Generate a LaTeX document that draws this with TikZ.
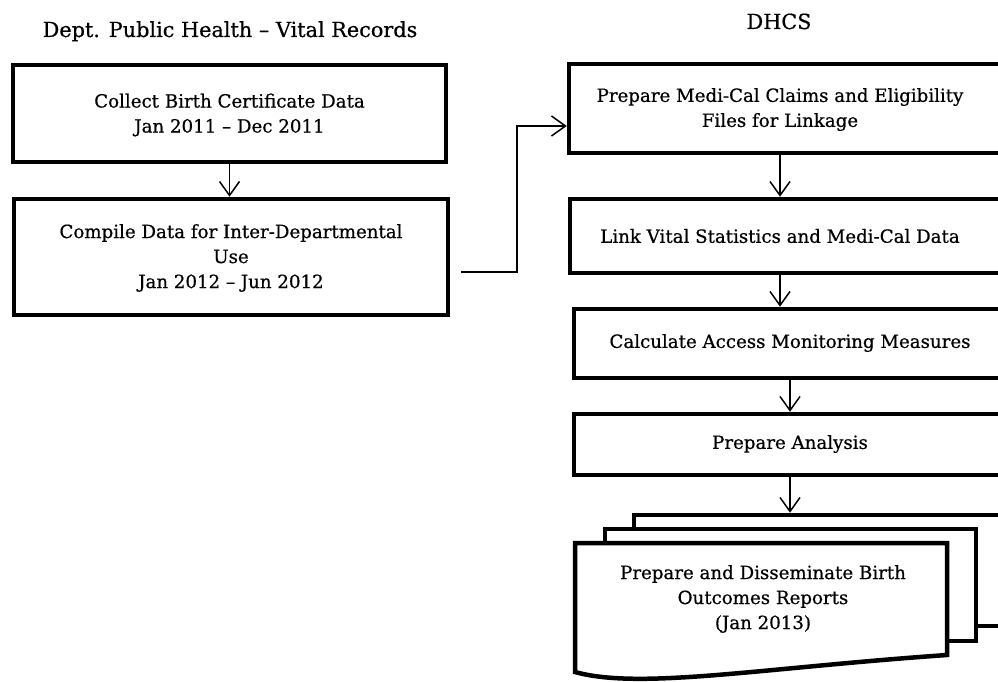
\documentclass[tikz,border=0pt]{standalone}
\usepackage{fontspec}
\setmainfont[FakeBold=0.6]{DejaVu Serif}
\usetikzlibrary{arrows.meta,calc}
\begin{document}
\begin{tikzpicture}[x=1pt,y=-1pt,
 frame/.style={draw=black, line width=4.5pt, fill=white, inner sep=0pt},
 txt/.style={align=center, font=\fontsize{18.2}{25}\selectfont, inner sep=0pt},
 head/.style={font=\fontsize{20.8}{25}\selectfont, inner sep=0pt, anchor=base},
 arr/.style={line width=1.5pt, -{Straight Barb[length=14pt,width=20pt,line width=1.5pt]}}]
\useasboundingbox (0,0) rectangle (998,682);
\clip (0,0) rectangle (998,682);
% headings
\node[head] (H1) at (230,37) {Dept. Public Health -- Vital Records};
\node[head] (H2) at (779,29) {DHCS};
% left column
\node[frame, minimum width=433pt, minimum height=97pt] (L1) at (229.5,113.5) {};
\node[txt] (LT1) at (229.5,115) {Collect Birth Certificate Data\\Jan 2011 -- Dec 2011};
\node[frame, minimum width=434pt, minimum height=116pt] (L2) at (231,257) {};
\node[txt] (LT2) at (231,258) {Compile Data for Inter-Departmental\\Use\\Jan 2012 -- Jun 2012};
% right column
\node[frame, minimum width=444pt, minimum height=89pt] (R1) at (791,108.5) {};
\node[txt] (T1) at (780,109.5) {Prepare Medi-Cal Claims and Eligibility\\Files for Linkage};
\node[frame, minimum width=443pt, minimum height=74pt] (R2) at (791.5,236) {};
\node[txt] (T2) at (780,236) {Link Vital Statistics and Medi-Cal Data};
\node[frame, minimum width=439pt, minimum height=69pt] (R3) at (793.5,343.5) {};
\node[txt] (T3) at (790,343) {Calculate Access Monitoring Measures};
\node[frame, minimum width=439pt, minimum height=61pt] (R4) at (793.5,444.5) {};
\node[txt] (T4) at (790,444) {Prepare Analysis};
% document stack
\node[frame, minimum width=379pt, minimum height=111pt] (D3) at (823.5,570.5) {};
\node[frame, minimum width=371pt, minimum height=112pt] (D2) at (790.5,585) {};
\draw[line width=4.5pt, fill=white, line join=miter]
  (575,543) -- (947,543) -- (947,655)
  .. controls (760,668) and (640,690) .. (575,672) -- cycle;
\node[txt] (D1) at (763,599) {Prepare and Disseminate Birth\\Outcomes Reports\\(Jan 2013)};
% connectors
\draw[arr] (L1.south -| LT1) -- (L2.north -| LT1);
\coordinate (c0) at (461,272);
\draw[arr] (c0) -- ++(56,0) |- ($(R1.west)+(0,17.5)$);
\draw[arr] (T1 |- R1.south) -- (T1 |- R2.north);
\draw[arr] (T2 |- R2.south) -- (T2 |- R3.north);
\draw[arr] (T3 |- R3.south) -- (T3 |- R4.north);
\draw[arr] (T4 |- R4.south) -- (T4 |- D3.north);
\end{tikzpicture}
\end{document}
